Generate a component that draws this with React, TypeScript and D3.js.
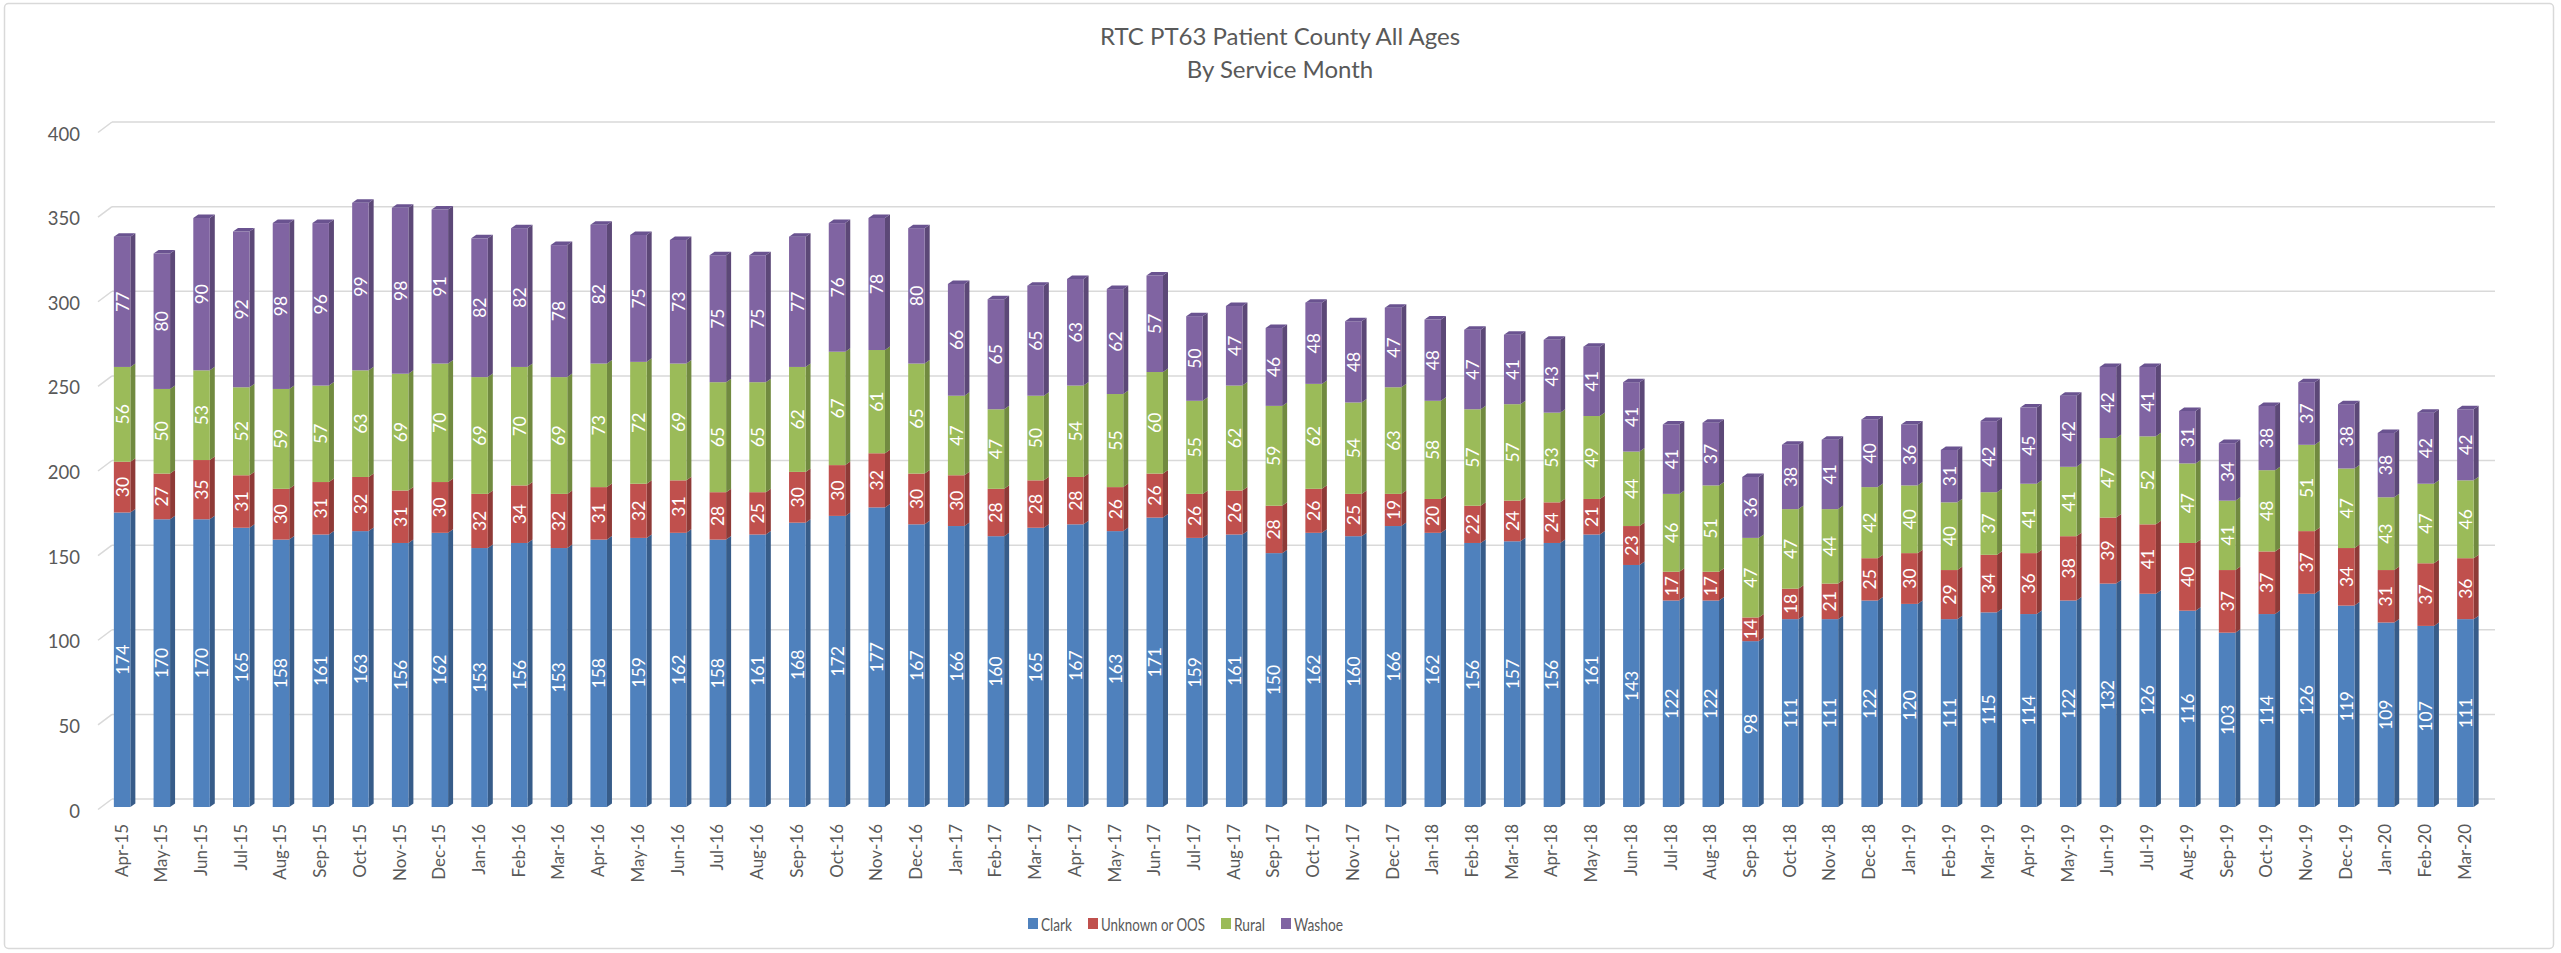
import React from "react";
import * as d3 from "d3";

const months = [
  "Apr-15","May-15","Jun-15","Jul-15","Aug-15","Sep-15","Oct-15","Nov-15","Dec-15",
  "Jan-16","Feb-16","Mar-16","Apr-16","May-16","Jun-16","Jul-16","Aug-16","Sep-16","Oct-16","Nov-16","Dec-16",
  "Jan-17","Feb-17","Mar-17","Apr-17","May-17","Jun-17","Jul-17","Aug-17","Sep-17","Oct-17","Nov-17","Dec-17",
  "Jan-18","Feb-18","Mar-18","Apr-18","May-18","Jun-18","Jul-18","Aug-18","Sep-18","Oct-18","Nov-18","Dec-18",
  "Jan-19","Feb-19","Mar-19","Apr-19","May-19","Jun-19","Jul-19","Aug-19","Sep-19","Oct-19","Nov-19","Dec-19",
  "Jan-20","Feb-20","Mar-20"
];

const clark = [174,170,170,165,158,161,163,156,162,153,156,153,158,159,162,158,161,168,172,177,167,166,160,165,167,163,171,159,161,150,162,160,166,162,156,157,156,161,143,122,122,98,111,111,122,120,111,115,114,122,132,126,116,103,114,126,119,109,107,111];
const unknown = [30,27,35,31,30,31,32,31,30,32,34,32,31,32,31,28,25,30,30,32,30,30,28,28,28,26,26,26,26,28,26,25,19,20,22,24,24,21,23,17,17,14,18,21,25,30,29,34,36,38,39,41,40,37,37,37,34,31,37,36];
const rural = [56,50,53,52,59,57,63,69,70,69,70,69,73,72,69,65,65,62,67,61,65,47,47,50,54,55,60,55,62,59,62,54,63,58,57,57,53,49,44,46,51,47,47,44,42,40,40,37,41,41,47,52,47,41,48,51,47,43,47,46];
const washoe = [77,80,90,92,98,96,99,98,91,82,82,78,82,75,73,75,75,77,76,78,80,66,65,65,63,62,57,50,47,46,48,48,47,48,47,41,43,41,41,41,37,36,38,41,40,36,31,42,45,42,42,41,31,34,38,37,38,38,42,42];

const seriesNames = ["Clark", "Unknown or OOS", "Rural", "Washoe"];
const seriesValues = [clark, unknown, rural, washoe];
const frontColors = ["#4F81BD", "#C0504D", "#9BBB59", "#8064A2"];
const sideColors = ["#375C89", "#8E3A37", "#718A40", "#5C4877"];
const topColors = ["#3F6A9E", "#A34440", "#829F4B", "#6A5390"];

const yTicks = [0, 50, 100, 150, 200, 250, 300, 350, 400];

const W = 2561;
const H = 953;
const FONT = "Lato, 'Open Sans', sans-serif";
const TEXT = "#595959";
const GRID = "#D9D9D9";

export default function App() {
  const x = d3.scaleBand<string>().domain(months).range([112, 2495]).paddingInner(0).paddingOuter(0);
  const yBack = d3.scaleLinear().domain([0, 400]).range([799, 122]);
  const yFront = d3.scaleLinear().domain([0, 400]).range([807, 130]);
  const gdx = 14, gdy = 10.5;
  const bw = 16.5;
  const ddx = 5, ddy = -3.5;
  const bandW = x.bandwidth();

  const stacked = d3.stack<number>()
    .keys(seriesNames.map((_, i) => String(i)))
    .value((i, k) => seriesValues[+k][i])(d3.range(months.length));

  const bars: React.ReactNode[] = [];
  const labels: React.ReactNode[] = [];
  months.forEach((m, i) => {
    const x0 = (x(m) as number) + bandW / 2 - 18;
    stacked.forEach((layer, s) => {
      const [v0, v1] = layer[i];
      const yt = yFront(v1);
      const yb = yFront(v0);
      bars.push(
        <g key={`b-${i}-${s}`}>
          <polygon
            points={`${x0 + bw},${yb} ${x0 + bw + ddx},${yb + ddy} ${x0 + bw + ddx},${yt + ddy} ${x0 + bw},${yt}`}
            fill={sideColors[s]}
          />
          <rect x={x0} y={yt} width={bw} height={yb - yt} fill={frontColors[s]} />
          {s === stacked.length - 1 && (
            <polygon
              points={`${x0},${yt} ${x0 + ddx},${yt + ddy} ${x0 + bw + ddx},${yt + ddy} ${x0 + bw},${yt}`}
              fill={topColors[s]}
            />
          )}
        </g>
      );
      const cx = x0 + bw / 2;
      const cy = (yt + yb) / 2;
      labels.push(
        <text
          key={`l-${i}-${s}`}
          transform={`translate(${cx},${cy}) rotate(-90)`}
          textAnchor="middle"
          dominantBaseline="central"
          fontSize={17.5}
          fill="#FFFFFF"
          fontFamily={FONT}
        >
          {seriesValues[s][i]}
        </text>
      );
    });
  });

  const legendItems = [
    { sx: 1028, tx: 1041, tw: 31 },
    { sx: 1088, tx: 1101, tw: 104 },
    { sx: 1221, tx: 1234, tw: 31 },
    { sx: 1281, tx: 1294, tw: 49 },
  ];

  return (
    <svg width={W} height={H} style={{ position: "absolute", left: 0, top: 0, background: "#fff" }}>
      <rect x={0} y={0} width={W} height={H} fill="#fff" />
      <rect x={4.5} y={3.5} width={2549} height={945} rx={4} fill="#fff" stroke={GRID} strokeWidth={1.5} />
      <text x={1280} y={45} textAnchor="middle" fontSize={24} fill={TEXT} fontFamily={FONT}>
        RTC PT63 Patient County All Ages
      </text>
      <text x={1280} y={78} textAnchor="middle" fontSize={24} fill={TEXT} fontFamily={FONT}>
        By Service Month
      </text>

      {yTicks.map((t) => (
        <g key={`g-${t}`}>
          <line x1={112} x2={2495} y1={yBack(t)} y2={yBack(t)} stroke={GRID} strokeWidth={1.5} />
          <line x1={112 - gdx} x2={112} y1={yBack(t) + gdy} y2={yBack(t)} stroke={GRID} strokeWidth={1.5} />
          <text
            x={80}
            y={yBack(t) + gdy + 1}
            textAnchor="end"
            dominantBaseline="central"
            fontSize={18.5}
            fill={TEXT}
            fontFamily={FONT}
          >
            {t}
          </text>
        </g>
      ))}

      {bars}
      {labels}

      {months.map((m) => {
        const cx = (x(m) as number) + bandW / 2 - 18 + bw / 2 - 1;
        return (
          <text
            key={`x-${m}`}
            transform={`translate(${cx},824) rotate(-90)`}
            textAnchor="end"
            dominantBaseline="central"
            fontSize={17}
            fill={TEXT}
            fontFamily={FONT}
          >
            {m}
          </text>
        );
      })}

      {seriesNames.map((n, i) => (
        <g key={`leg-${i}`}>
          <rect x={legendItems[i].sx} y={918} width={10} height={11} fill={frontColors[i]} />
          <text
            x={legendItems[i].tx}
            y={924}
            dominantBaseline="central"
            fontSize={17}
            fill={TEXT}
            fontFamily={FONT}
            textLength={legendItems[i].tw}
            lengthAdjust="spacingAndGlyphs"
          >
            {n}
          </text>
        </g>
      ))}
    </svg>
  );
}
